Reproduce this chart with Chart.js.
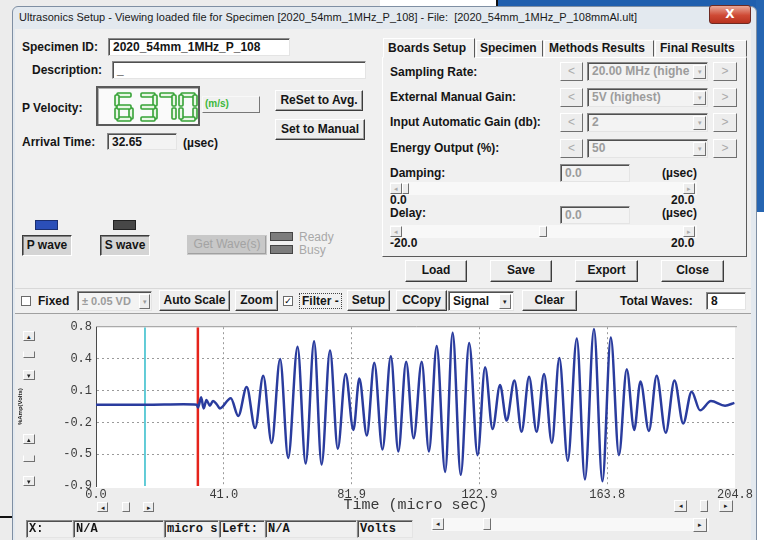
<!DOCTYPE html>
<html>
<head>
<meta charset="utf-8">
<script src="https://cdn.jsdelivr.net/npm/chart.js@4.4.0/dist/chart.umd.min.js"></script>
<style>
body{margin:0;width:764px;height:540px;overflow:hidden;position:relative;background:#ececec;font-family:"Liberation Sans",Arial,sans-serif}
div{box-sizing:border-box}
.a{position:absolute}
.lbl{position:absolute;font-weight:bold;font-size:12px;color:#151515;white-space:nowrap;line-height:14px}
.box{position:absolute;background:#fff;border:1px solid;border-color:#8a8a8a #e4e4e4 #e4e4e4 #8a8a8a;box-shadow:inset 1px 1px 0 #505050;font-weight:bold;font-size:12px;padding:1px 4px;white-space:nowrap;overflow:hidden;line-height:14px;color:#151515}
.gbox{background:#f3f3f3;color:#9c9c9c}
.btn{position:absolute;background:#ededed;border:1px solid;border-color:#fff #3c3c3c #3c3c3c #fff;box-shadow:inset -1px -1px 0 #a0a0a0;font-weight:bold;font-size:12px;text-align:center;white-space:nowrap;color:#151515}
.dis{color:#a3a3a3}
.arr{position:absolute;background:#ededed;border:1px solid;border-color:#fff #707070 #707070 #fff;font-size:7px;line-height:9px;text-align:center;color:#222}
.chk{position:absolute;width:10px;height:10px;background:#fff;border:1px solid #6a6a6a;font:9px "DejaVu Sans";line-height:8px;text-align:center}
.mono{font-family:"Liberation Mono","Courier New",monospace}
</style>
</head>
<body>
<!-- desktop around the window -->
<div class="a" style="left:380px;top:0;width:118px;height:9px;background:#fff;border-right:2px solid #111;border-bottom:1px solid #111"></div>
<div class="a" style="left:498px;top:0;width:266px;height:10px;background:#1f5fae"></div>
<div class="a" style="left:756px;top:0;width:8px;height:212px;background:#2565b2"></div>
<div class="a" style="left:756px;top:212px;width:8px;height:328px;background:#fff"></div>
<div class="a" style="left:0;top:516px;width:12px;height:2px;background:#111"></div>

<!-- window frame -->
<div class="a" style="left:12px;top:6px;width:745px;height:540px;background:#e3e9ef;border:1px solid #7f8fa3;border-radius:6px 6px 0 0"></div>
<div class="a" style="left:19px;top:11px;font-size:11px;color:#1a1a1a;white-space:nowrap">Ultrasonics Setup - Viewing loaded file for Specimen [2020_54mm_1MHz_P_108] - File:&nbsp; [2020_54mm_1MHz_P_108mmAl.ult]</div>
<div class="a" style="left:709px;top:5px;width:42px;height:19px;border:1px solid #6e2a22;border-radius:3px;background:linear-gradient(#eaa898,#cf4a35 55%,#b8321f);color:#fff;font:bold 12px 'DejaVu Sans';text-align:center;line-height:17px">X</div>
<div class="a" style="left:15px;top:29px;width:736px;height:511px;background:#f0f0f0"></div>

<!-- specimen fields -->
<div class="lbl" style="left:22px;top:40px">Specimen ID:</div>
<div class="box" style="left:108px;top:38px;width:182px;height:18px">2020_54mm_1MHz_P_108</div>
<div class="lbl" style="left:32px;top:63px">Description:</div>
<div class="box" style="left:112px;top:61px;width:254px;height:18px">_</div>
<div class="lbl" style="left:22px;top:101px">P Velocity:</div>
<div class="a" style="left:96px;top:86px;width:104px;height:40px;background:#fafafa;border:2px solid #5a5a5a;box-shadow:inset 1px 1px 0 #b0b0b0"></div>
<svg id="led" class="a" style="left:96px;top:86px" width="104" height="40"></svg>
<div class="a" style="left:202px;top:96px;width:58px;height:17px;border:1px solid;border-color:#f8f8f8 #777 #777 #f8f8f8"></div>
<div class="a" style="left:205px;top:98px;font:bold 10px 'Liberation Sans';color:#3cb83c">(m/s)</div>
<div class="btn" style="left:275px;top:90px;width:88px;height:21px;line-height:18px">ReSet to Avg.</div>
<div class="btn" style="left:275px;top:119px;width:90px;height:21px;line-height:18px">Set to Manual</div>
<div class="lbl" style="left:22px;top:135px">Arrival Time:</div>
<div class="box" style="left:107px;top:133px;width:70px;height:17px;background:#f3f3f3">32.65</div>
<div class="lbl" style="left:183px;top:136px;font-weight:bold">(µsec)</div>

<!-- tabs -->
<div class="a" style="left:382px;top:57px;width:365px;height:200px;border:1px solid;border-color:#fff #5a5a5a #5a5a5a #fff"></div>
<div class="a" style="left:383px;top:38px;width:92px;height:20px;background:#f0f0f0;border:1px solid;border-color:#fff #5a5a5a transparent #fff"></div>
<div class="lbl" style="left:388px;top:41px">Boards Setup</div>
<div class="a" style="left:476px;top:40px;width:67px;height:17px;border:1px solid;border-color:#fff #5a5a5a transparent #fff"></div>
<div class="lbl" style="left:480px;top:41px">Specimen</div>
<div class="a" style="left:544px;top:40px;width:110px;height:17px;border:1px solid;border-color:#fff #5a5a5a transparent #fff"></div>
<div class="lbl" style="left:549px;top:41px">Methods Results</div>
<div class="a" style="left:655px;top:40px;width:92px;height:17px;border:1px solid;border-color:#fff #5a5a5a transparent #fff"></div>
<div class="lbl" style="left:660px;top:41px">Final Results</div>

<div class="lbl" style="left:390px;top:65px">Sampling Rate:</div>
<div class="lbl" style="left:390px;top:90px">External Manual Gain:</div>
<div class="lbl" style="left:390px;top:115px">Input Automatic Gain (db):</div>
<div class="lbl" style="left:390px;top:141px">Energy Output (%):</div>
<div id="rows"></div>

<div class="lbl" style="left:390px;top:166px">Damping:</div>
<div class="box gbox" style="left:560px;top:164px;width:70px;height:18px">0.0</div>
<div class="lbl" style="left:662px;top:166px">(µsec)</div>
<div class="a" style="left:390px;top:182px;width:307px;height:13px;background:#f8f8f8"></div>
<div class="arr" style="left:390px;top:183px;width:12px;height:11px;color:#aaa">◂</div>
<div class="arr" style="left:402px;top:183px;width:7px;height:11px"></div>
<div class="arr" style="left:683px;top:183px;width:12px;height:11px;color:#aaa">▸</div>
<div class="lbl" style="left:390px;top:195px;line-height:11px">0.0</div>
<div class="lbl" style="left:671px;top:195px;line-height:11px">20.0</div>
<div class="lbl" style="left:390px;top:207px;line-height:13px">Delay:</div>
<div class="box gbox" style="left:560px;top:206px;width:70px;height:18px">0.0</div>
<div class="lbl" style="left:662px;top:207px;line-height:13px">(µsec)</div>
<div class="a" style="left:390px;top:225px;width:307px;height:13px;background:#f8f8f8"></div>
<div class="arr" style="left:390px;top:226px;width:12px;height:11px;color:#aaa">◂</div>
<div class="arr" style="left:539px;top:226px;width:8px;height:11px"></div>
<div class="arr" style="left:683px;top:226px;width:12px;height:11px;color:#aaa">▸</div>
<div class="lbl" style="left:390px;top:238px;line-height:11px">-20.0</div>
<div class="lbl" style="left:671px;top:238px;line-height:11px">20.0</div>

<div class="btn" style="left:405px;top:260px;width:62px;height:22px;line-height:19px">Load</div>
<div class="btn" style="left:490px;top:260px;width:62px;height:22px;line-height:19px">Save</div>
<div class="btn" style="left:575px;top:260px;width:63px;height:22px;line-height:19px">Export</div>
<div class="btn" style="left:661px;top:260px;width:63px;height:22px;line-height:19px">Close</div>

<!-- wave selectors -->
<div class="a" style="left:35px;top:220px;width:23px;height:10px;background:#2b4fb8;border:1px solid #1b2f70"></div>
<div class="btn" style="left:22px;top:235px;width:50px;height:21px;line-height:18px;background:#d4d4d4;border-color:#3c3c3c #fff #fff #3c3c3c;box-shadow:inset 1px 1px 0 #808080">P wave</div>
<div class="a" style="left:113px;top:220px;width:23px;height:10px;background:#474747;border:1px solid #222"></div>
<div class="btn" style="left:100px;top:235px;width:50px;height:21px;line-height:18px;background:#d4d4d4;border-color:#3c3c3c #fff #fff #3c3c3c;box-shadow:inset 1px 1px 0 #808080">S wave</div>
<div class="btn dis" style="left:187px;top:235px;width:80px;height:20px;line-height:17px;font-weight:normal;background:#c8c8c8;border-color:#c8c8c8">Get Wave(s)</div>
<div class="a" style="left:270px;top:232px;width:23px;height:9px;background:#7c7c7c;border:1px solid #444"></div>
<div class="a" style="left:270px;top:245px;width:23px;height:9px;background:#7c7c7c;border:1px solid #444"></div>
<div class="a" style="left:299px;top:230px;font-size:12px;color:#a8a8a8">Ready</div>
<div class="a" style="left:299px;top:243px;font-size:12px;color:#a8a8a8">Busy</div>

<!-- chart toolbar -->
<div class="a" style="left:15px;top:288px;width:736px;height:1px;background:#d8d8d8"></div>
<div class="chk" style="left:21px;top:296px"></div>
<div class="lbl" style="left:38px;top:294px">Fixed</div>
<div class="box gbox" style="left:77px;top:291px;width:75px;height:20px;line-height:16px;font-size:11px">± 0.05 VD</div>
<div class="arr" style="left:139px;top:294px;width:11px;height:15px;line-height:13px;color:#999">▾</div>
<div class="btn" style="left:159px;top:290px;width:71px;height:21px;line-height:18px">Auto Scale</div>
<div class="btn" style="left:235px;top:290px;width:43px;height:21px;line-height:18px">Zoom</div>
<div class="chk" style="left:283px;top:296px">✓</div>
<div class="lbl" style="left:299px;top:293px;border:1px dotted #444;padding:0 2px">Filter -</div>
<div class="btn" style="left:347px;top:290px;width:43px;height:21px;line-height:18px">Setup</div>
<div class="btn" style="left:396px;top:290px;width:51px;height:21px;line-height:18px">CCopy</div>
<div class="box" style="left:448px;top:291px;width:66px;height:20px;line-height:16px">Signal</div>
<div class="arr" style="left:499px;top:294px;width:12px;height:15px;line-height:13px">▾</div>
<div class="btn" style="left:522px;top:290px;width:55px;height:21px;line-height:18px">Clear</div>
<div class="lbl" style="left:620px;top:294px">Total Waves:</div>
<div class="box" style="left:706px;top:292px;width:40px;height:18px">8</div>

<!-- chart panel -->
<div class="a" style="left:15px;top:313px;width:736px;height:227px;background:#ededed;border-top:1px solid #a0a0a0"></div>
<canvas id="wave" class="a" style="left:17px;top:316px"></canvas>

<div class="arr" style="left:23px;top:331px;width:12px;height:10px">▴</div>
<div class="arr" style="left:23px;top:351px;width:12px;height:7px;border-top-color:#ededed"></div>
<div class="arr" style="left:23px;top:370px;width:12px;height:10px">▾</div>
<div class="arr" style="left:23px;top:434px;width:12px;height:10px">▴</div>
<div class="arr" style="left:23px;top:455px;width:12px;height:7px;border-top-color:#ededed"></div>
<div class="arr" style="left:23px;top:476px;width:12px;height:10px">▾</div>

<div class="arr" style="left:97px;top:502px;width:11px;height:10px">◂</div>
<div class="arr" style="left:122px;top:502px;width:8px;height:10px"></div>
<div class="arr" style="left:143px;top:502px;width:11px;height:10px">▸</div>
<div class="arr" style="left:674px;top:500px;width:13px;height:12px">◂</div>
<div class="arr" style="left:700px;top:500px;width:8px;height:12px"></div>
<div class="arr" style="left:719px;top:500px;width:14px;height:12px">▸</div>

<!-- status bar -->
<div class="box mono" style="left:26px;top:520px;width:47px;height:18px;background:#f0f0f0;padding:1px 2px">X:</div>
<div class="box mono" style="left:73px;top:520px;width:91px;height:18px;background:#f0f0f0;padding:1px 2px">N/A</div>
<div class="box mono" style="left:164px;top:520px;width:55px;height:18px;background:#f0f0f0;padding:1px 2px">micro s</div>
<div class="box mono" style="left:219px;top:520px;width:46px;height:18px;background:#f0f0f0;padding:1px 2px">Left:</div>
<div class="box mono" style="left:265px;top:520px;width:92px;height:18px;background:#f0f0f0;padding:1px 2px">N/A</div>
<div class="box mono" style="left:357px;top:520px;width:56px;height:18px;background:#f0f0f0;padding:1px 2px">Volts</div>
<div class="a" style="left:431px;top:518px;width:278px;height:13px;background:#f8f8f8"></div>
<div class="arr" style="left:432px;top:518px;width:12px;height:12px">◂</div>
<div class="arr" style="left:483px;top:518px;width:8px;height:12px"></div>
<div class="arr" style="left:693px;top:518px;width:14px;height:14px;line-height:12px">▸</div>

<script>
// waveform: time (micro sec) / amplitude (volts)
const waveTimes = [0, 15.7, 28, 32.3, 32.7, 33.7, 34.5, 35.4, 36.5, 37.5, 38.8, 39.7,
  43.2, 45.6, 48.3, 51.0, 53.6, 56.3, 59.0, 61.6, 64.6, 67.2, 69.9, 72.3, 75.0, 77.5,
  80.0, 82.5, 84.4, 86.8, 89.2, 91.8, 94.5, 96.9, 99.4, 101.8, 104.4, 106.7, 109.2,
  111.9, 114.3, 116.9, 119.6, 122.3, 124.7, 127.1, 129.5, 131.6, 134.1, 136.4, 138.8,
  141.2, 143.6, 146.1, 148.5, 151.2, 154.1, 156.7, 159.6, 162.3, 165.0, 167.6, 170.1,
  172.5, 174.5, 177.2, 179.7, 182.6, 185.4, 188.2, 190.9, 193.6, 197.1, 201.6, 204.6];
const waveVolts = [-0.03, -0.03, -0.025, -0.03, -0.06, 0.05, -0.07, 0.02, -0.04, 0.01, -0.03, -0.07,
  0.04, -0.15, 0.16, -0.28, 0.28, -0.44, 0.46, -0.60, 0.59, -0.66, 0.65, -0.67, 0.55, -0.50,
  0.30, -0.30, 0.25, -0.36, 0.42, -0.51, 0.49, -0.53, 0.43, -0.39, 0.43, -0.53, 0.60,
  -0.75, 0.74, -0.78, 0.63, -0.57, 0.37, -0.29, 0.18, -0.20, 0.23, -0.32, 0.27,
  -0.32, 0.30, -0.44, 0.47, -0.63, 0.68, -0.83, 0.78, -0.85, 0.69, -0.57, 0.35,
  -0.30, 0.22, -0.31, 0.28, -0.33, 0.23, -0.23, 0.11, -0.09, 0.01, -0.04, -0.01];

// cyan marker and arrival time marker
const cursorTimes = [15.7, 32.65];
const cursorColors = ["#52c7d3", "#e5231b"];

const xTickValues = [0, 40.96, 81.92, 122.88, 163.84, 204.8];
const xTickLabels = ["0.0", "41.0", "81.9", "122.9", "163.8", "204.8"];
const yTickValues = [-0.9, -0.56, -0.22, 0.12, 0.46, 0.8];
const yTickLabels = ["-0.9", "-0.5", "-0.2", "0.1", "0.4", "0.8"];

const pVelocity = "6370";

// combo rows of the boards setup tab
const rowTops = [62, 88, 113, 139];
const rowValues = ["20.00 MHz (highe", "5V (highest)", "2", "50"];

let rowsHtml = "";
rowTops.forEach((t, i) => {
  rowsHtml += '<div class="arr" style="left:560px;top:' + t + 'px;width:23px;height:19px;font:12px Liberation Sans;line-height:17px;color:#aaa">&lt;</div>';
  rowsHtml += '<div class="box gbox" style="left:587px;top:' + t + 'px;width:121px;height:19px">' + rowValues[i] + '</div>';
  rowsHtml += '<div class="arr" style="left:693px;top:' + (t + 3) + 'px;width:13px;height:14px;line-height:12px;color:#aaa">▾</div>';
  rowsHtml += '<div class="arr" style="left:713px;top:' + t + 'px;width:24px;height:19px;font:12px Liberation Sans;line-height:17px;color:#aaa">&gt;</div>';
});
document.getElementById("rows").innerHTML = rowsHtml;

// seven segment display
const segMap = {"0": "abcdef", "3": "abcdg", "6": "acdefg", "7": "abc"};
const digitX = [19, 43, 62, 83];
const led = document.getElementById("led");
let svg = "";
pVelocity.split("").forEach((d, i) => {
  const x = digitX[i], y = 7, w = 18, h = 28, t = 4;
  const seg = {
    a: [x + 2, y, w - 4, t],
    b: [x + w - t, y + 2, t, h / 2 - 3],
    c: [x + w - t, y + h / 2 + 1, t, h / 2 - 3],
    d: [x + 2, y + h - t, w - 4, t],
    e: [x, y + h / 2 + 1, t, h / 2 - 3],
    f: [x, y + 2, t, h / 2 - 3],
    g: [x + 2, y + h / 2 - t / 2, w - 4, t]
  };
  segMap[d].split("").forEach(s => {
    const r = seg[s];
    svg += '<rect x="' + r[0] + '" y="' + r[1] + '" width="' + r[2] + '" height="' + r[3] +
      '" rx="1" fill="#eaf7e6" stroke="#36a236" stroke-width="1.6"/>';
  });
});
led.innerHTML = svg;

const wavePoints = waveTimes.map((t, i) => ({x: t, y: waveVolts[i]}));
const yMin = yTickValues[0], yMax = yTickValues[yTickValues.length - 1];

const cursorSets = cursorTimes.map((t, i) => ({
  data: [{x: t, y: yMin}, {x: t, y: yMax}],
  borderColor: cursorColors[i],
  borderWidth: i == 1 ? 2.5 : 1.8,
  pointRadius: 0,
  tension: 0,
  order: 2
}));

const plotBg = {
  id: "plotBg",
  beforeDraw(chart) {
    const {ctx, chartArea: a} = chart;
    ctx.save();
    ctx.fillStyle = "#ffffff";
    ctx.fillRect(a.left, a.top, a.right - a.left, a.bottom - a.top + 2);
    ctx.strokeStyle = "#9a9a9a";
    ctx.lineWidth = 1;
    ctx.beginPath();
    ctx.moveTo(a.left, a.top - 0.5);
    ctx.lineTo(a.right + 2, a.top - 0.5);
    ctx.stroke();
    ctx.restore();
  }
};

const canvas = document.getElementById("wave");
canvas.width = 739;
canvas.height = 197;
new Chart(canvas.getContext("2d"), {
  type: "line",
  data: {
    datasets: [
      {
        data: wavePoints,
        borderColor: "#2a3c9e",
        borderWidth: 2.5,
        pointRadius: 0,
        cubicInterpolationMode: "monotone",
        order: 1
      },
      ...cursorSets
    ]
  },
  options: {
    responsive: false,
    animation: false,
    layout: {padding: {top: 10, right: 21, left: 0, bottom: 0}},
    plugins: {legend: {display: false}, tooltip: {enabled: false}},
    scales: {
      x: {
        type: "linear",
        min: 0,
        max: 204.8,
        afterBuildTicks: s => { s.ticks = xTickValues.map(v => ({value: v})); },
        afterFit: s => { s.height = 27; },
        ticks: {
          callback: (v, i) => xTickLabels[i],
          autoSkip: false,
          maxRotation: 0,
          padding: 2,
          color: "#3a3a3a",
          font: {family: "Liberation Mono", size: 12}
        },
        grid: {
          drawTicks: false,
          color: c => (c.index == 0 || c.index == xTickValues.length - 1) ? "rgba(0,0,0,0)" : "#9a9a9a"
        },
        border: {display: false, dash: [2, 3]},
        title: {
          display: true,
          text: "Time (micro sec)",
          color: "#3a3a3a",
          font: {family: "Liberation Mono", size: 15, lineHeight: 1},
          padding: {top: 0, bottom: 0}
        }
      },
      y: {
        min: yMin,
        max: yMax,
        afterBuildTicks: s => { s.ticks = yTickValues.map(v => ({value: v})); },
        afterFit: s => { s.width = 79; },
        ticks: {
          callback: (v, i) => yTickLabels[i],
          padding: 4,
          color: "#3a3a3a",
          font: {family: "Liberation Mono", size: 12}
        },
        grid: {
          drawTicks: false,
          color: c => (c.index == 0 || c.index == yTickValues.length - 1) ? "rgba(0,0,0,0)" : "#9a9a9a"
        },
        border: {display: true, color: "#4a4a4a", width: 1, dash: [2, 3]},
        title: {
          display: true,
          text: "%Amp(Volts)",
          color: "#222",
          font: {family: "Liberation Sans", size: 6, weight: "bold", lineHeight: 1},
          padding: {top: 0, bottom: 0}
        }
      }
    }
  },
  plugins: [plotBg]
});
</script>
</body>
</html>
